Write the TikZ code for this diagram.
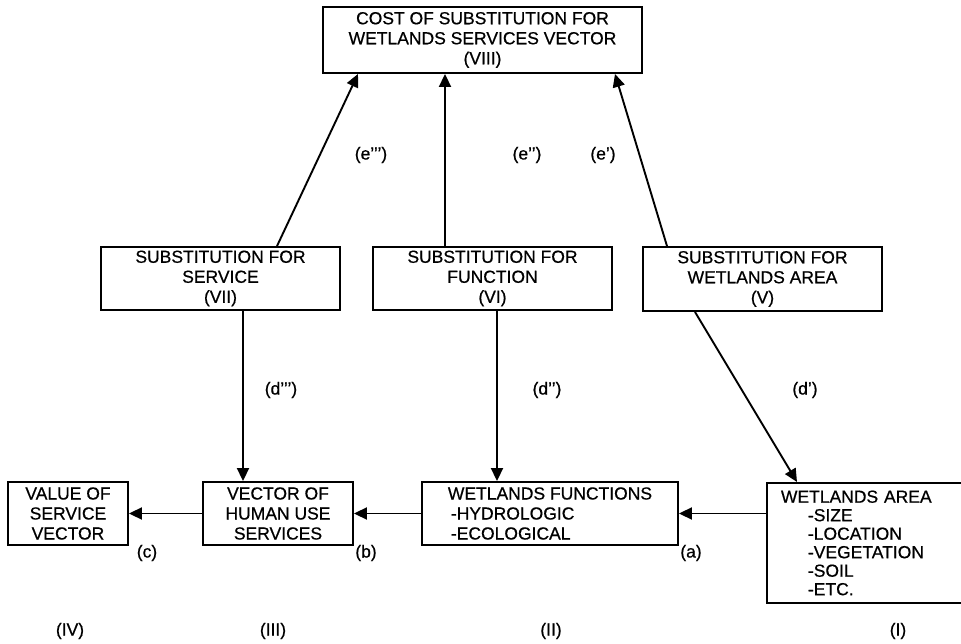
\documentclass[tikz,border=0pt]{standalone}
\usepackage{fontspec}
\setmainfont{Liberation Sans}[FakeBold=0.6]
\usetikzlibrary{arrows.meta}

\begin{document}
\begin{tikzpicture}[x=1pt, y=-1pt, line width=1.9pt,
    every node/.style={font=\fontsize{17.5}{20}\selectfont},
    box/.style={draw, rectangle, align=center, inner sep=0pt},
    lab/.style={inner sep=0pt},
    arr/.style={-{Triangle[length=13pt,width=12pt]}}]
            \useasboundingbox (0,0) rectangle (961,644);
            \clip (0,0) rectangle (961,644);

            % Top box
            \node[box, minimum width=319pt, minimum height=66pt] (cost) at (482.5,40) {COST OF SUBSTITUTION FOR\\WETLANDS SERVICES VECTOR\\(VIII)};

            % Substitution boxes
            \node[box, minimum width=239pt, minimum height=63pt] (subsvc) at (220.5,278.5) {SUBSTITUTION FOR\\SERVICE\\(VII)};
            \node[box, minimum width=239pt, minimum height=63pt] (subfun) at (492.5,278.5) {SUBSTITUTION FOR\\FUNCTION\\(VI)};
            \node[box, minimum width=239pt, minimum height=64pt] (subarea) at (762.5,279) {SUBSTITUTION FOR\\WETLANDS AREA\\(V)};

            % Bottom row
            \node[box, minimum width=120pt, minimum height=63pt] (value) at (68,513.5) {VALUE OF\\SERVICE\\VECTOR};
            \node[box, minimum width=150pt, minimum height=63pt] (human) at (278,513.5) {VECTOR OF\\HUMAN USE\\SERVICES};
            \node[box, minimum width=256pt, minimum height=63pt, align=left] (funcs) at (550,513.5) {WETLANDS FUNCTIONS\\\hspace*{3pt}-HYDROLOGIC\\\hspace*{3pt}-ECOLOGICAL};
            \node[box, anchor=north west, align=left, text width=190pt, inner xsep=14pt, minimum height=120pt, font=\fontsize{17.5}{18.5}\selectfont] (area) at (766,482) {WETLANDS AREA\\\hspace*{27pt}-SIZE\\\hspace*{27pt}-LOCATION\\\hspace*{27pt}-VEGETATION\\\hspace*{27pt}-SOIL\\\hspace*{27pt}-ETC.};

            % Arrows up to the cost vector
            \draw[arr] ([xshift=56.5pt]subsvc.north) -- ([xshift=-124.5pt]cost.south);
            \draw[arr] ([xshift=-47.5pt]subfun.north) -- ([xshift=-37.5pt]cost.south);
            \draw[arr] ([xshift=-95.5pt]subarea.north) -- ([xshift=132.5pt]cost.south);

            % Arrows down
            \draw[arr] ([xshift=22.5pt]subsvc.south) -- ([xshift=-35pt]human.north);
            \draw[arr] ([xshift=4.5pt]subfun.south) -- ([xshift=-53pt]funcs.north);
            \draw[arr] ([xshift=-67.5pt]subarea.south) -- ([xshift=31pt]area.north west);

            % Arrows along the bottom
            \draw[arr] (funcs.east -| area.west) -- (funcs.east);
            \draw[arr] (funcs.west) -- (human.east);
            \draw[arr] (human.west) -- (value.east);

            % Labels
            \node[lab] (e3) at (371,155) {(e’’’)};
            \node[lab] (e2) at (527,155) {(e’’)};
            \node[lab] (e1) at (603,155) {(e’)};
            \node[lab] (d3) at (281,390) {(d’’’)};
            \node[lab] (d2) at (547,390) {(d’’)};
            \node[lab] (d1) at (805,390) {(d’)};
            \node[lab] (c) at (147,553) {(c)};
            \node[lab] (b) at (366,553) {(b)};
            \node[lab] (a) at (691,553) {(a)};
            \node[lab] (IV) at (70,631) {(IV)};
            \node[lab] (III) at (273,631) {(III)};
            \node[lab] (II) at (551,631) {(II)};
            \node[lab] (I) at (898,631) {(I)};
        \end{tikzpicture}
\end{document}
